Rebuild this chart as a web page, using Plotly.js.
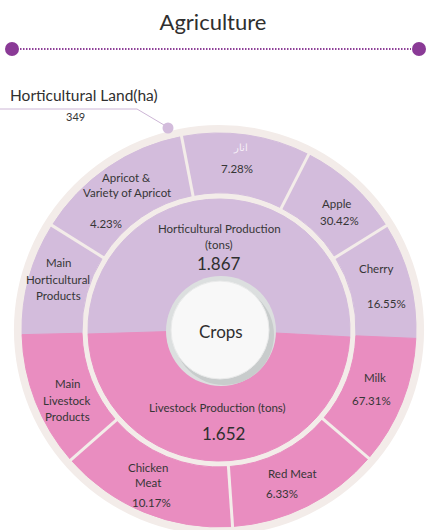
<!DOCTYPE html>
<html>
<head>
<meta charset="utf-8">
<script src="https://cdn.plot.ly/plotly-3.0.1.min.js"></script>
<style>
  html, body { margin: 0; padding: 0; overflow: hidden; background: #fff; }
  #chart { width: 426px; height: 545px; }
</style>
</head>
<body>
<div id="chart"></div>
<script>
// outer ring, clockwise starting at the left edge
var segmentNames = ['Main<br>Horticultural<br>Products', 'Apricot &<br>Variety of Apricot', 'انار', 'Apple', 'Cherry',
                    'Milk', 'Red Meat', 'Chicken<br>Meat', 'Main<br>Livestock<br>Products'];
var segmentPercents = ['', '4.23%', '7.28%', '30.42%', '16.55%', '67.31%', '6.33%', '10.17%', ''];
// arc of each segment as it is drawn (degrees)
var segmentArcs = [33.4, 47, 38, 31, 34.4, 38.1, 45.5, 52.7, 39.9];
var segmentGroup = [0, 0, 0, 0, 0, 1, 1, 1, 1];

// inner disk
var groupNames = ['Horticultural Production<br>(tons)', 'Livestock Production (tons)'];
var groupValues = ['1.867', '1.652'];
var groupArcs = [184.8, 175.2];

var chartTitle = 'Agriculture';
var landLabel = 'Horticultural Land(ha)';
var landValue = '349';
var centerLabel = 'Crops';

// ---- layout helpers (pixels -> paper) ----
var W = 426, H = 545;
var CX = 219, CY = 330;
var FONT = 'Lato, "Open Sans", sans-serif';
var TEXT = '#363636';
var PURPLE = '#d3bcdc', PINK = '#e98dc0', BEIGE = '#f3ece9';
var groupColors = [PURPLE, PINK];

function X(px) { return px / W; }
function Y(py) { return 1 - py / H; }
function dom(r) {
    return {x: [X(CX - r), X(CX + r)], y: [Y(CY + r), Y(CY - r)]};
}
function note(text, x, y, size, color) {
    return {text: text, x: X(x), y: Y(y), xref: 'paper', yref: 'paper', showarrow: false,
            xanchor: 'center', yanchor: 'middle',
            font: {family: FONT, size: size, color: color || TEXT}};
}
function circle(x, y, r, fill, line) {
    return {type: 'circle', xref: 'paper', yref: 'paper',
            x0: X(x - r), x1: X(x + r), y0: Y(y + r), y1: Y(y - r),
            fillcolor: fill, line: line || {width: 0}};
}
function seg(x0, y0, x1, y1, color, width, dash) {
    return {type: 'line', xref: 'paper', yref: 'paper', x0: X(x0), y0: Y(y0), x1: X(x1), y1: Y(y1),
            line: {color: color, width: width, dash: dash || 'solid'}};
}

var RING_START = -1.35;   // degrees below the left horizontal
var DISK_START = -1.75;

var segColors = segmentGroup.map(function (g) { return groupColors[g]; });

var traces = [
    // beige backing
    {type: 'pie', values: [1], labels: ['bg'], marker: {colors: [BEIGE]}, domain: dom(205),
     textinfo: 'none', hoverinfo: 'skip', sort: false, showlegend: false},
    // outer ring
    {type: 'pie', values: segmentArcs, labels: segmentNames, domain: dom(197), hole: 137 / 197,
     sort: false, direction: 'clockwise', rotation: -90 + RING_START,
     marker: {colors: segColors, line: {color: segColors, width: 1}},
     textinfo: 'none', hoverinfo: 'skip', showlegend: false},
    // inner disk
    {type: 'pie', values: groupArcs, labels: groupNames, domain: dom(131),
     sort: false, direction: 'clockwise', rotation: -90 + DISK_START,
     marker: {colors: groupColors, line: {color: groupColors, width: 1}},
     textinfo: 'none', hoverinfo: 'skip', showlegend: false}
];

var shapes = [];
// header rule
shapes.push(seg(20, 49, 411, 49, '#8e3f98', 2, '1.5px,1.5px'));
shapes.push(circle(12, 49, 7, '#8a3a96'));
shapes.push(circle(419, 49, 7, '#8a3a96'));
// land callout
shapes.push(seg(0, 109, 137, 109, '#cdb6d6', 1));
shapes.push(seg(137, 109, 164, 125, '#cdb6d6', 1));
shapes.push(circle(168, 128, 5.5, PURPLE));

// dividers inside each group
var acc = RING_START;
for (var i = 0; i < segmentArcs.length - 1; i++) {
    acc += segmentArcs[i];
    if (segmentGroup[i] !== segmentGroup[i + 1]) continue;
    var a = acc * Math.PI / 180;
    shapes.push(seg(CX - 134 * Math.cos(a), CY - 134 * Math.sin(a),
                    CX - 200 * Math.cos(a), CY - 200 * Math.sin(a), BEIGE, 3));
}

// center badge
shapes.push(circle(221, 331, 55, '#dcdfdf'));
shapes.push(circle(224, 335, 50, '#c8cccc'));
shapes.push(circle(220, 330, 49, '#f8f8f8', {color: '#e9eaea', width: 1}));

// label placement (pixels): centre of the name block and of the percent
var namePos = [[58, 279], [127, 185], [240, 147], [336, 203], [376, 268], [375, 377], [292, 473], [148, 475], [67, 400]];
var nameGap = [16.5, 15.5, 0, 0, 0, 0, 0, 14.5, 16.5];
var pctPos = [null, [106, 223], [237, 169], [339, 221], [386, 303], [371, 400], [282, 493], [151, 502], null];

var annotations = [];
segmentNames.forEach(function (name, i) {
    var lines = name.split('<br>');
    var y0 = namePos[i][1] - (lines.length - 1) * nameGap[i] / 2;
    var color = (name === 'انار') ? '#f7f0f8' : TEXT;
    lines.forEach(function (ln, k) {
        annotations.push(note(ln, namePos[i][0], y0 + k * nameGap[i], name === 'انار' ? 10 : 11.5, color));
    });
    if (pctPos[i]) annotations.push(note(segmentPercents[i], pctPos[i][0], pctPos[i][1], 11.5));
});

var groupPos = [[219, 236, 219, 263], [218, 407, 223, 433]];
groupNames.forEach(function (name, i) {
    var lines = name.split('<br>');
    var y0 = groupPos[i][1] - (lines.length - 1) * 16 / 2;
    lines.forEach(function (ln, k) {
        annotations.push(note(ln, groupPos[i][0], y0 + k * 16, 11.5));
    });
    annotations.push(note(groupValues[i], groupPos[i][2], groupPos[i][3], 17, '#2f2f2f'));
});

annotations.push(note(centerLabel, 221, 331, 17, '#2f2f2f'));
annotations.push(note(landLabel, 84, 95, 15.5, '#2f2f2f'));
annotations.push(note(landValue, 75, 117, 11));

var layout = {
    width: W, height: H,
    margin: {l: 0, r: 0, t: 0, b: 0},
    paper_bgcolor: '#ffffff',
    title: {text: chartTitle, x: 0.5, xanchor: 'center', y: Y(22), yanchor: 'middle',
            font: {family: FONT, size: 22, color: '#2f2f2f'}},
    shapes: shapes,
    annotations: annotations,
    showlegend: false
};

Plotly.newPlot('chart', traces, layout, {displayModeBar: false, staticPlot: true});
</script>
</body>
</html>
